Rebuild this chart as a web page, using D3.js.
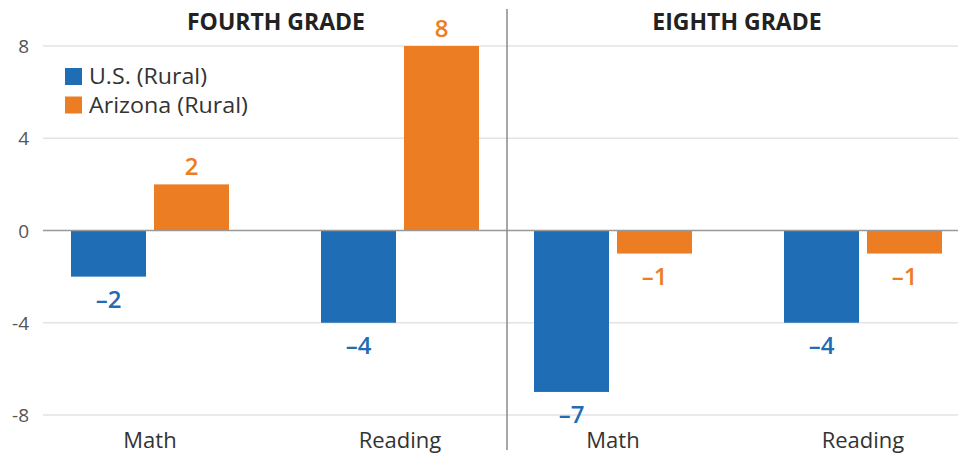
<!DOCTYPE html>
<html>
<head>
<meta charset="utf-8">
<script src="https://cdn.jsdelivr.net/npm/d3@7"></script>
<style>
  body { margin: 0; background: #fff; }
  svg { font-family: "Open Sans", "Noto Sans", sans-serif; }
</style>
</head>
<body>
<div id="chart"></div>
<script>
// datos
const grades = ["FOURTH GRADE", "EIGHTH GRADE"];
const subjects = ["Math", "Reading"];
const seriesNames = ["U.S. (Rural)", "Arizona (Rural)"];
const usRural = [-2, -4, -7, -4];       // 4º math, 4º reading, 8º math, 8º reading
const azRural = [2, 8, -1, -1];
const yTicks = [8, 4, 0, -4, -8];
const colors = ["#1f6db5", "#ec7d23"];

const width = 958, height = 456;

const svg = d3.select("#chart")
    .append("svg")
    .attr("width", width)
    .attr("height", height);

// escala y
const y = d3.scaleLinear()
    .domain([-8, 8])
    .range([415, 46]);

// una escala de banda por panel
const panelRanges = [[25, 525], [488, 988]];
const x0 = panelRanges.map(r => d3.scaleBand()
    .domain(subjects)
    .range(r)
    .paddingInner(0.368)
    .paddingOuter(0.184));

const x1 = d3.scaleBand()
    .domain(seriesNames)
    .range([0, x0[0].bandwidth()])
    .paddingInner(0.0964);

// rejilla
svg.append("g")
    .selectAll("line")
    .data(yTicks.filter(d => d !== 0))
    .join("line")
    .attr("x1", 43)
    .attr("x2", width)
    .attr("y1", d => y(d))
    .attr("y2", d => y(d))
    .attr("stroke", "#e3e3e3")
    .attr("stroke-width", 1.5);

// eje y (solo etiquetas)
const yAxis = svg.append("g")
    .attr("transform", "translate(29,0)")
    .call(d3.axisLeft(y).tickValues(yTicks).tickSize(0).tickPadding(0).tickFormat(d => String(d)));
yAxis.select(".domain").remove();
yAxis.selectAll("text")
    .attr("font-size", 19)
    .attr("fill", "#555")
    .attr("dy", "0.35em")
    .style("font-family", "Open Sans, sans-serif");

// datos planos
const rows = [];
grades.forEach((g, gi) => {
    subjects.forEach((s, si) => {
        const idx = gi * 2 + si;
        rows.push({ panel: gi, subject: s, series: seriesNames[0], value: usRural[idx], color: colors[0] });
        rows.push({ panel: gi, subject: s, series: seriesNames[1], value: azRural[idx], color: colors[1] });
    });
});

const barX = d => x0[d.panel](d.subject) + x1(d.series);

svg.append("g")
    .selectAll("rect")
    .data(rows)
    .join("rect")
    .attr("x", barX)
    .attr("width", x1.bandwidth())
    .attr("y", d => y(Math.max(0, d.value)))
    .attr("height", d => Math.abs(y(d.value) - y(0)))
    .attr("fill", d => d.color);

// línea cero
svg.append("line")
    .attr("x1", 43)
    .attr("x2", width)
    .attr("y1", y(0))
    .attr("y2", y(0))
    .attr("stroke", "#999")
    .attr("stroke-width", 1.5);

// separador de paneles
svg.append("line")
    .attr("x1", 507)
    .attr("x2", 507)
    .attr("y1", 9)
    .attr("y2", 450)
    .attr("stroke", "#8a8a8a")
    .attr("stroke-width", 1.5);

// etiquetas de valor
svg.append("g")
    .selectAll("text")
    .data(rows)
    .join("text")
    .attr("x", d => barX(d) + x1.bandwidth() / 2)
    .attr("y", d => d.value >= 0 ? y(d.value) - 9 : y(d.value) + 31)
    .attr("text-anchor", "middle")
    .attr("font-size", 24)
    .attr("font-weight", 600)
    .attr("fill", d => d.color)
    .text(d => d.value < 0 ? "\u2013" + Math.abs(d.value) : d.value);

// etiquetas de categoría
svg.append("g")
    .selectAll("text")
    .data(rows.filter(d => d.series === seriesNames[0]))
    .join("text")
    .attr("x", d => x0[d.panel](d.subject) + x0[d.panel].bandwidth() / 2)
    .attr("y", 448)
    .attr("text-anchor", "middle")
    .attr("font-size", 22)
    .attr("fill", "#333")
    .text(d => d.subject);

// títulos de panel
svg.append("g")
    .selectAll("text")
    .data(grades)
    .join("text")
    .attr("x", (d, i) => i === 0 ? 276 : 737)
    .attr("y", 30)
    .attr("text-anchor", "middle")
    .attr("font-size", 23)
    .attr("font-weight", "bold")
    .attr("fill", "#222")
    .text(d => d);

// leyenda
const legend = svg.append("g")
    .attr("transform", "translate(65,68)")
    .selectAll("g")
    .data(seriesNames)
    .join("g")
    .attr("transform", (d, i) => `translate(0,${i * 28.5})`);

legend.append("rect")
    .attr("width", 17)
    .attr("height", 17)
    .attr("fill", (d, i) => colors[i]);

legend.append("text")
    .attr("x", 24)
    .attr("y", 16)
    .attr("font-size", 22)
    .attr("textLength", (d, i) => i === 0 ? 118 : 159)
    .attr("lengthAdjust", "spacingAndGlyphs")
    .attr("fill", "#333")
    .text(d => d);
</script>
</body>
</html>
